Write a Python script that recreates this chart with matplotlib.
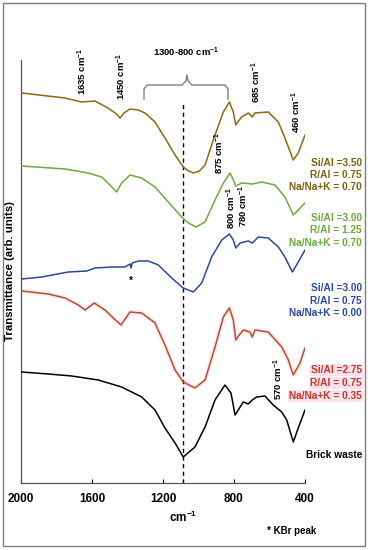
import matplotlib.pyplot as plt
from matplotlib.lines import Line2D
from matplotlib.patches import Rectangle

# ======================
# 1) Spectra (wavenumber in cm-1, transmittance in arb. units, already offset)
# ======================
wn_brown = [1996, 1752, 1658, 1583, 1510, 1462, 1442, 1420, 1386, 1340, 1301, 1245, 1189, 1132,
            1086, 1055, 1029, 995, 963, 907, 860, 826, 804, 790, 779, 757, 719, 697, 682, 607,
            550, 513, 466, 438, 400]
t_brown = [390, 385, 381, 382, 375, 369, 365, 370, 374, 373, 370, 361, 345, 328,
           316, 312, 310, 312, 318, 348, 371, 381, 371, 358, 361, 366, 370, 366, 370, 371,
           361, 345, 323, 330, 348]

wn_green = [1996, 1752, 1621, 1545, 1499, 1461, 1433, 1386, 1320, 1245, 1170, 1095, 1057, 1014,
            963, 907, 860, 822, 804, 790, 757, 697, 644, 569, 513, 466, 438, 400]
t_green = [317, 314, 310, 306, 298, 291, 300, 308, 305, 296, 281, 266, 260, 256,
           261, 283, 300, 310, 303, 297, 300, 299, 301, 298, 286, 268, 273, 280]

wn_blue = [1996, 1883, 1734, 1630, 1583, 1489, 1414, 1386, 1380, 1373, 1339, 1283, 1226, 1151,
           1086, 1029, 982, 926, 869, 826, 804, 790, 765, 719, 697, 663, 607, 550, 513, 471, 438, 400]
t_blue = [204, 206, 211, 212, 215, 216, 216, 219, 215, 220, 222, 222, 218, 205,
          195, 191, 200, 226, 243, 249, 243, 235, 240, 242, 240, 246, 245, 236, 226, 211, 221, 233]

wn_red = [1996, 1846, 1752, 1677, 1639, 1587, 1527, 1480, 1437, 1386, 1320, 1245, 1189, 1132,
          1086, 1020, 963, 907, 860, 826, 804, 790, 779, 748, 710, 697, 682, 607, 531, 494,
          466, 428, 400]
t_red = [192, 189, 185, 178, 173, 180, 173, 165, 158, 171, 170, 160, 138, 113,
         101, 95, 103, 136, 166, 175, 163, 143, 146, 153, 151, 146, 153, 151, 136, 123,
         108, 120, 135]

wn_black = [1996, 1846, 1714, 1565, 1433, 1320, 1245, 1189, 1132, 1086, 1020, 963, 907, 851,
            817, 794, 776, 748, 720, 697, 672, 625, 600, 579, 531, 503, 466, 438, 400]
t_black = [111, 109, 107, 103, 96, 86, 73, 55, 40, 26, 36, 56, 83, 98,
           90, 68, 73, 81, 79, 83, 86, 87, 82, 78, 71, 63, 41, 55, 73]

series = [
    (wn_brown, t_brown, "#8a6a12"),
    (wn_green, t_green, "#6aab3c"),
    (wn_blue, t_blue, "#2b4a9c"),
    (wn_red, t_red, "#b4502a"),
    (wn_black, t_black, "#000000"),
]

labels = [
    (["Si/Al =3.50", "R/Al = 0.75", "Na/Na+K = 0.70"], "#7f6210", [163, 175, 187]),
    (["Si/Al =3.00", "R/Al = 1.25", "Na/Na+K = 0.70"], "#6aab3c", [218, 230, 243]),
    (["Si/Al =3.00", "R/Al = 0.75", "Na/Na+K = 0.00"], "#2b4a9c", [288, 301, 313]),
    (["Si/Al =2.75", "R/Al = 0.75", "Na/Na+K = 0.35"], "#c0392b", [370, 383, 396]),
    (["Brick waste"], "#000000", [455]),
]

# peak labels: text, x px, bottom y px
peaks = [
    ("1635 cm$^{-1}$", 82, 95),
    ("1450 cm$^{-1}$", 121, 100),
    ("685 cm$^{-1}$", 256, 103),
    ("460 cm$^{-1}$", 296, 133),
    ("875 cm$^{-1}$", 219, 174),
    ("800 cm$^{-1}$", 231, 229),
    ("780 cm$^{-1}$", 243, 227),
    ("570 cm$^{-1}$", 278, 400),
]
xticks = [2000, 1600, 1200, 800, 400]

# ======================
# 2) style
# ======================
plt.rcParams["font.family"] = ["Liberation Sans", "DejaVu Sans"]
plt.rcParams["font.weight"] = "bold"
plt.rcParams["mathtext.fontset"] = "custom"
plt.rcParams["mathtext.bf"] = "Liberation Sans:bold"
plt.rcParams["mathtext.rm"] = "Liberation Sans:bold"
plt.rcParams["mathtext.default"] = "bf"

W, H = 368, 550
fig = plt.figure(figsize=(W / 100, H / 100), dpi=100)


def px(x, y):
    return x / W, 1 - y / H


ax = fig.add_axes([21 / W, (H - 483) / H, 284 / W, 423 / H])
ax.set_xlim(2000, 400)
ax.set_ylim(0, 423)

for wn, t, c in series:
    if c == "#b4502a":
        ax.plot(wn, t, color="#fdebf1", lw=3.5, solid_capstyle="round", zorder=1)
    ax.plot(wn, t, color=c, lw=1.1, zorder=3)

ax.plot([1085, 1085], [0, 380], color="black", lw=1, ls=(0, (3, 2.5)), zorder=2)

ax.set_xticks(xticks)
ax.set_xticklabels([str(v) for v in xticks], fontsize=8.5, fontweight="bold")
ax.set_yticks([])
ax.tick_params(axis="x", direction="in", length=3, width=0.8, pad=7)
for s in ["top", "right"]:
    ax.spines[s].set_visible(False)
for s in ["left", "bottom"]:
    ax.spines[s].set_linewidth(0.9)
    ax.spines[s].set_color("#555555")

fig.text(*px(10, 271), "Transmittance (arb. units)", rotation=90, ha="center", va="center",
         fontsize=8.2, fontweight="bold")
fig.text(*px(183, 517), "cm$^{-1}$", ha="center", va="center", fontsize=8.5)
fig.text(*px(292, 531), "* KBr peak", ha="center", va="center", fontsize=7)
fig.text(*px(131, 281), "*", ha="center", va="center", fontsize=7)

for txt, x, y in peaks:
    fig.text(*px(x, y), txt, rotation=90, ha="center", va="bottom", fontsize=6.8)

fig.text(*px(186, 52), "1300-800 cm$^{-1}$", ha="center", va="center", fontsize=6.8)
brace = [(144, 99), (144, 89), (147, 85), (182, 85), (186, 81), (187, 75),
         (188, 81), (192, 85), (225, 85), (228, 89), (228, 99)]
fig.add_artist(Line2D([px(*p)[0] for p in brace], [px(*p)[1] for p in brace],
                      color="#7f7f7f", lw=1))

for lines, c, ys in labels:
    for txt, y in zip(lines, ys):
        kw = {}
        if c == "#c0392b":
            kw["bbox"] = dict(facecolor="#fbe1ea", edgecolor="none", pad=0.6)
        fig.text(*px(362, y), txt, ha="right", va="center", fontsize=7.3, color=c, **kw)

fig.add_artist(Rectangle(px(3, 546), 362 / W, 543 / H, fill=False,
                         edgecolor="#7f7f7f", lw=1, transform=fig.transFigure))

fig.savefig("out.png", dpi=100)
plt.close()
